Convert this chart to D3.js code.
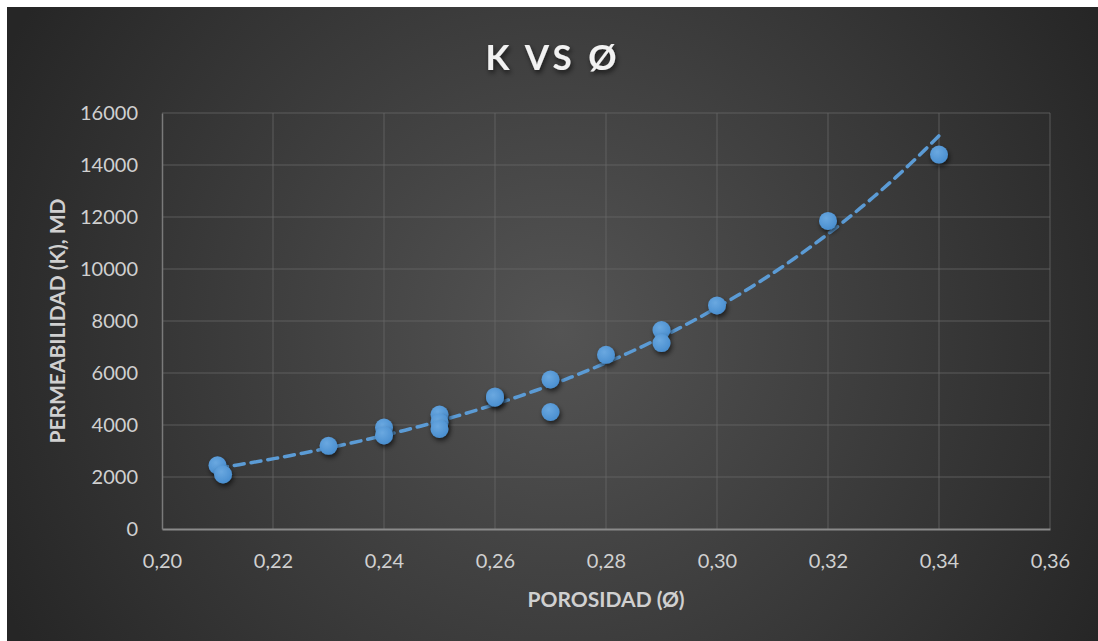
<!DOCTYPE html>
<html><head><meta charset="utf-8">
<script src="https://cdn.jsdelivr.net/npm/d3@7"></script>
<style>html,body{margin:0;padding:0;background:#fff;}svg{display:block;}</style>
</head><body><svg id="c" width="1098" height="641"></svg>
<script>
const title = "K VS Ø";
const xTitle = "POROSIDAD (Ø)";
const yTitle = "PERMEABILIDAD (K), MD";
const porosity = [0.21, 0.211, 0.23, 0.24, 0.24, 0.25, 0.25, 0.25, 0.26, 0.26, 0.27, 0.27, 0.28, 0.29, 0.29, 0.30, 0.32, 0.34];
const permeability = [2450, 2100, 3200, 3900, 3600, 4400, 4100, 3850, 5100, 5050, 5750, 4500, 6700, 7650, 7150, 8600, 11850, 14400];
const xTicks = [0.20, 0.22, 0.24, 0.26, 0.28, 0.30, 0.32, 0.34, 0.36];
const yTicks = [0, 2000, 4000, 6000, 8000, 10000, 12000, 14000, 16000];

const svg = d3.select("#c");
const W = 1098, H = 641;
const defs = svg.append("defs");
const rg = defs.append("radialGradient").attr("id","bg").attr("gradientUnits","userSpaceOnUse")
  .attr("cx",560).attr("cy",330).attr("r",620);
rg.append("stop").attr("offset","0%").attr("stop-color","#545454");
rg.append("stop").attr("offset","100%").attr("stop-color","#262626");
const sh = defs.append("filter").attr("id","sh").attr("x","-50%").attr("y","-50%").attr("width","200%").attr("height","200%");
sh.append("feDropShadow").attr("dx",1.5).attr("dy",3).attr("stdDeviation",2.5).attr("flood-color","#000").attr("flood-opacity",0.6);
const mg = defs.append("radialGradient").attr("id","mk").attr("cx","40%").attr("cy","35%").attr("r","65%");
mg.append("stop").attr("offset","0%").attr("stop-color","#6aa8e0");
mg.append("stop").attr("offset","100%").attr("stop-color","#4a8fd0");

svg.append("rect").attr("x",7).attr("y",7).attr("width",W-7).attr("height",H-7).attr("fill","url(#bg)");

const x = d3.scaleLinear().domain([0.20,0.36]).range([162,1050]);
const y = d3.scaleLinear().domain([0,16000]).range([529,113]);

const font = "Lato, 'Open Sans', sans-serif";
// gridlines
const g = svg.append("g");
g.selectAll("line.h").data(yTicks.slice(1)).join("line")
  .attr("x1",x(0.20)).attr("x2",x(0.36)).attr("y1",d=>y(d)).attr("y2",d=>y(d))
  .attr("stroke","#6a6a6a").attr("stroke-opacity",0.75).attr("stroke-width",1);
g.selectAll("line.v").data(xTicks.slice(1)).join("line")
  .attr("x1",d=>x(d)).attr("x2",d=>x(d)).attr("y1",y(0)).attr("y2",y(16000))
  .attr("stroke","#6a6a6a").attr("stroke-opacity",0.75).attr("stroke-width",1);

// axes
const xa = svg.append("g").attr("transform",`translate(0,${y(0)})`)
  .call(d3.axisBottom(x).tickValues(xTicks).tickSize(0).tickPadding(25).tickFormat(d=>d3.format(".2f")(d).replace(".",",")));
xa.select(".domain").attr("stroke","#8a8a8a").attr("stroke-width",2);
xa.selectAll("text").attr("font-family",font).attr("font-size",20).attr("fill","#d0d0d0");
const ya = svg.append("g").attr("transform",`translate(${x(0.20)},0)`)
  .call(d3.axisLeft(y).tickValues(yTicks).tickSize(0).tickPadding(24).tickFormat(d=>String(d)));
ya.select(".domain").attr("stroke","#7a7a7a").attr("stroke-width",1.5);
ya.selectAll("text").attr("font-family",font).attr("font-size",20).attr("fill","#d0d0d0");

// exponential trendline (least squares on ln k)
const lx = porosity, ly = permeability.map(Math.log);
const mx = d3.mean(lx), my = d3.mean(ly);
const b = d3.sum(lx.map((v,i)=>(v-mx)*(ly[i]-my)))/d3.sum(lx.map(v=>(v-mx)*(v-mx)));
const a = Math.exp(my - b*mx);
const xmin = d3.min(porosity), xmax = d3.max(porosity);
const tl = d3.range(0,101).map(i=>{const p = xmin+(xmax-xmin)*i/100; return [p, a*Math.exp(b*p)];});
svg.append("path").datum(tl)
  .attr("d", d3.line().x(d=>x(d[0])).y(d=>y(d[1])))
  .attr("fill","none").attr("stroke","#5b9bd5").attr("stroke-width",3.5)
  .attr("stroke-dasharray","10,7").attr("stroke-linecap","round");

// markers
svg.append("g").selectAll("circle").data(porosity.map((p,i)=>[p,permeability[i]])).join("circle")
  .attr("cx",d=>x(d[0])).attr("cy",d=>y(d[1])).attr("r",9)
  .attr("fill","url(#mk)").attr("filter","url(#sh)");

// titles
svg.append("text").attr("x",553).attr("y",70).attr("text-anchor","middle")
  .attr("font-family",font).attr("font-weight","bold").attr("font-size",35).attr("letter-spacing",4)
  .attr("fill","#f2f2f2").attr("filter","url(#sh)").text(title);
svg.append("text").attr("x",606).attr("y",607).attr("text-anchor","middle")
  .attr("font-family",font).attr("font-weight","bold").attr("font-size",21)
  .attr("fill","#d0d0d0").text(xTitle);
svg.append("text").attr("transform","translate(65,321) rotate(-90)").attr("text-anchor","middle")
  .attr("font-family",font).attr("font-weight","bold").attr("font-size",21)
  .attr("fill","#d0d0d0").text(yTitle);
</script></body></html>
